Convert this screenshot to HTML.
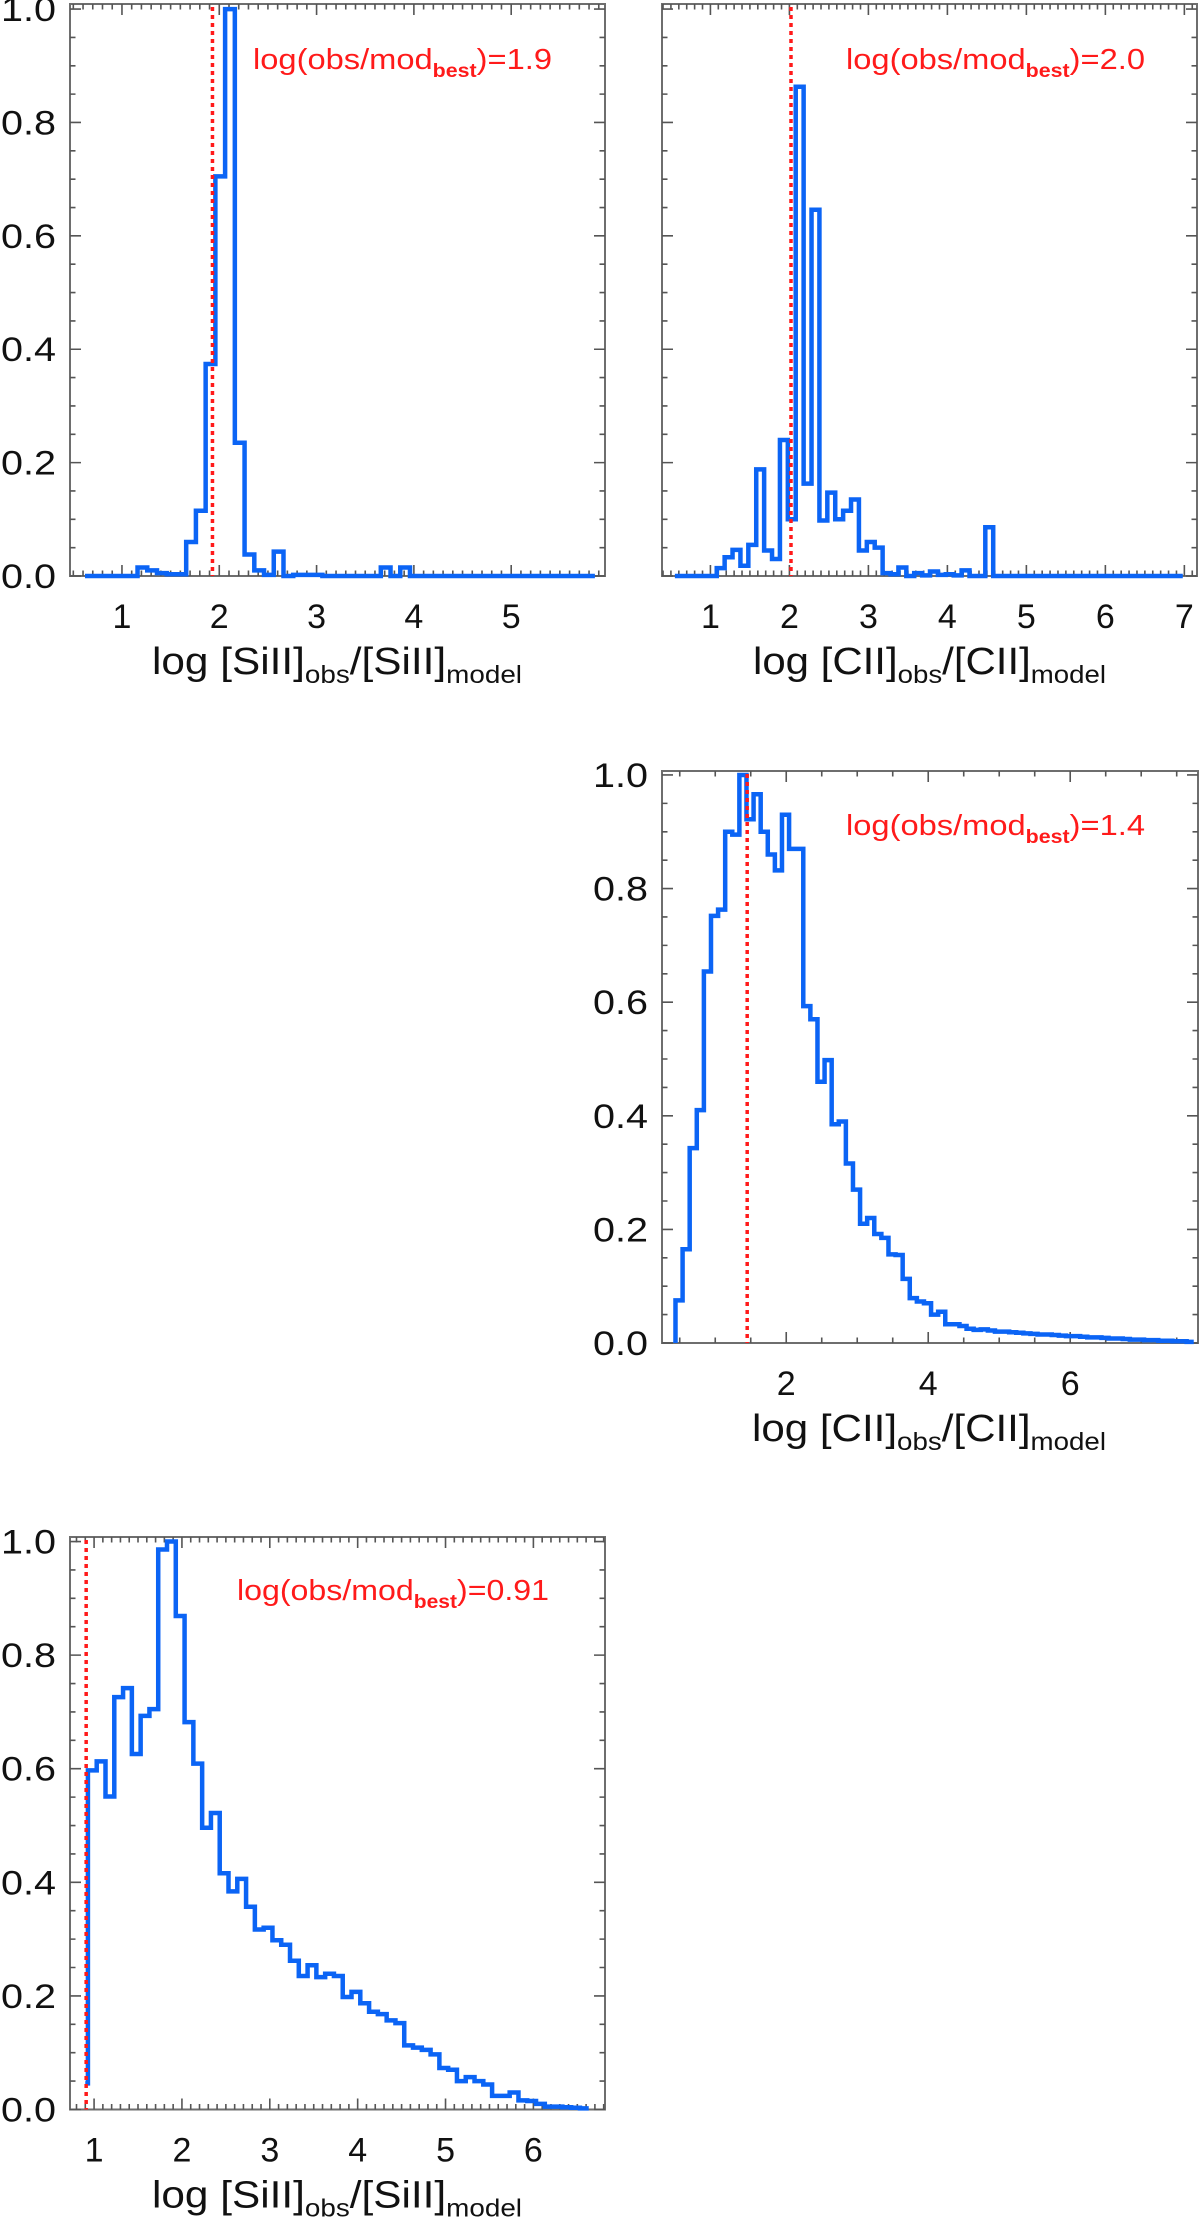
<!DOCTYPE html>
<html><head><meta charset="utf-8"><style>
html,body{margin:0;padding:0;background:#fff;}
svg{display:block;font-family:"Liberation Sans",sans-serif;}
</style></head><body>
<svg id="fig" width="1200" height="2220" viewBox="0 0 1200 2220" xmlns="http://www.w3.org/2000/svg"></svg>
<script>
// ---- data ----
const p1Start = 0.56, p1Width = 0.1, p1Lo = 0.62;
const p1Values = [0,0,0,0,0,0,0.015,0.01,0.005,0.003,0.003,0.06,0.115,0.374,0.705,1.0,0.235,0.038,0.01,0.002,0.043,0,0.002,0.002,0.002,0,0,0,0,0,0,0.015,0,0.015,0,0,0,0,0,0,0,0,0,0,0,0,0,0,0,0,0,0,0];
const p1Best = 1.93;
const p1XTicks = [1,2,3,4,5];

const p2Start = 0.48, p2Width = 0.1, p2Lo = 0.55;
const p2Values = [0,0,0,0,0,0,0.014,0.033,0.046,0.018,0.055,0.188,0.045,0.03,0.24,0.1,0.863,0.163,0.646,0.098,0.147,0.1,0.115,0.135,0.045,0.06,0.05,0.005,0.003,0.015,0,0.005,0.001,0.008,0.002,0.003,0.001,0.01,0,0,0.086,0,0,0,0,0,0,0,0,0,0,0,0,0,0,0,0,0,0,0,0,0,0,0,0];
const p2Best = 2.02;
const p2XTicks = [1,2,3,4,5,6,7];

const p3Start = 0.44, p3Width = 0.1, p3Lo = 0.44;
const p3Values = [0.075,0.165,0.343,0.41,0.654,0.752,0.763,0.9,0.895,1.0,0.922,0.966,0.9,0.86,0.832,0.93,0.87,0.87,0.593,0.57,0.46,0.498,0.385,0.39,0.316,0.27,0.21,0.22,0.192,0.185,0.156,0.155,0.113,0.079,0.073,0.07,0.05,0.055,0.033,0.033,0.03,0.025,0.023,0.024,0.022,0.02,0.02,0.019,0.018,0.017,0.016,0.015,0.015,0.014,0.013,0.012,0.012,0.011,0.01,0.01,0.009,0.008,0.008,0.007,0.006,0.006,0.005,0.005,0.004,0.004,0.003,0.003,0.002];
const p3Best = 1.45;
const p3XTicks = [2,4,6];

const p4Start = 0.83, p4Width = 0.1, p4Lo = 0.9;
const p4Values = [0.046,0.597,0.613,0.551,0.726,0.742,0.626,0.693,0.705,0.986,1.0,0.869,0.682,0.609,0.496,0.522,0.416,0.384,0.406,0.357,0.317,0.32,0.298,0.29,0.262,0.235,0.254,0.233,0.239,0.235,0.198,0.207,0.187,0.172,0.168,0.157,0.152,0.113,0.109,0.105,0.097,0.073,0.07,0.05,0.057,0.05,0.044,0.024,0.024,0.03,0.016,0.015,0.01,0.005,0.005,0.004,0.003,0.002];
const p4Best = 0.91;
const p4XTicks = [1,2,3,4,5,6];

const yTickLabels = ["0.0","0.2","0.4","0.6","0.8","1.0"];
const yTickValues = [0,0.2,0.4,0.6,0.8,1.0];

const NS = "http://www.w3.org/2000/svg";
const fig = document.getElementById('fig');
function mk(tag, attrs, parent){
  const e = document.createElementNS(NS, tag);
  for (const k in attrs) e.setAttribute(k, attrs[k]);
  (parent||fig).appendChild(e);
  return e;
}

function panel(cfg){
  const g = mk('g', {});
  
  
  const X = v => cfg.L + (v - cfg.xmin) / (cfg.xmax - cfg.xmin) * (cfg.R - cfg.L);
  const Y = v => cfg.B - (v - 0) / (cfg.ymax - 0) * (cfg.B - cfg.T);
  const fr = mk('rect', {x:cfg.L, y:cfg.T, width:cfg.R-cfg.L, height:cfg.B-cfg.T, fill:'none', stroke:'#6e6e6e', 'stroke-width':2}, g);
  
  
  let d = '';
  const first = Math.ceil(cfg.xmin / cfg.xMinor - 1e-6);
  for (let i = first; i * cfg.xMinor <= cfg.xmax + 1e-6; i++){
    const v = i * cfg.xMinor;
    const maj = Math.abs(v / cfg.xMajor - Math.round(v / cfg.xMajor)) < 1e-6;
    const len = maj ? 11 : 5.5;
    const x = X(v);
    d += `M${x},${cfg.B}v${-len}M${x},${cfg.T}v${len}`;
  }
  for (let v = 0; v <= cfg.ymax + 1e-6; v += 0.05){
    const maj = Math.abs(v / 0.2 - Math.round(v / 0.2)) < 1e-6;
    const len = maj ? 11 : 5.5;
    const y = Y(v);
    d += `M${cfg.L},${y}h${len}M${cfg.R},${y}h${-len}`;
  }
  const tk = mk('path', {d:d, stroke:'#555', 'stroke-width':1.6, fill:'none'}, g);
  
  
  cfg.xTicks.forEach(v => {
    const t = mk('text', {x:X(v), y:cfg.B+52, 'font-size':34, 'text-anchor':'middle', fill:'#111'}, g);
    
    
    t.textContent = String(v);
  });
  if (cfg.yLabelRight){
    yTickValues.forEach((v, i) => {
      const t = mk('text', {x:cfg.yLabelRight, y:Y(v)+12, 'font-size':34, 'text-anchor':'end', fill:'#111', textLength:55, lengthAdjust:'spacingAndGlyphs'}, g);
      
      
      t.textContent = yTickLabels[i];
    });
  }
  let p = '';
  const vals = cfg.values;
  for (let k = 0; k < vals.length; k++){
    const x0 = X(Math.max(cfg.start + k * cfg.width, cfg.lo));
    const x1 = X(cfg.start + (k + 1) * cfg.width);
    const y = Y(vals[k]);
    if (k === 0){ p += cfg.fromZero ? `M${x0},${Y(0)}L${x0},${y}` : `M${x0},${y}`; }
    else p += `L${x0},${y}`;
    p += `L${x1},${y}`;
  }
  const h = mk('path', {d:p, fill:'none', stroke:'#0b64f5', 'stroke-width':4.5, 'stroke-linejoin':'miter'}, g);
  
  
  const bl = mk('line', {x1:X(cfg.best), x2:X(cfg.best), y1:cfg.T+3, y2:cfg.B, stroke:'#ff1a1a', 'stroke-width':3.5, 'stroke-dasharray':'4 4'}, g);
  
  
  const an = mk('text', {x:cfg.annX, y:cfg.annY, 'font-size':29, fill:'#ff1a1a', textLength:cfg.annW, lengthAdjust:'spacingAndGlyphs'}, g);
  
  
  an.innerHTML = `log(obs/mod<tspan font-size="19" font-weight="bold" dy="8">best</tspan><tspan dy="-8">)=${cfg.annVal}</tspan>`;
  const tt = mk('text', {x:cfg.titleX, y:cfg.B+98, 'font-size':38, fill:'#111', textLength:cfg.titleW, lengthAdjust:'spacingAndGlyphs'}, g);
  
  
  const el = cfg.el;
  tt.innerHTML = `log  [${el}]<tspan font-size="25" dy="9">obs</tspan><tspan dy="-9">/[${el}]</tspan><tspan font-size="25" dy="9">model</tspan>`;
}

panel({name:'panel-siii-top', L:70, R:605, T:4, B:576, xmin:0.466, xmax:5.964, ymax:1.009, xMinor:0.1, xMajor:1,
  xTicks:p1XTicks, yLabelRight:56, start:p1Start, width:p1Width, lo:p1Lo, values:p1Values, fromZero:false,
  best:p1Best, annX:253, annY:69, annW:299, annVal:'1.9', titleX:152, titleW:370, el:'SiII'});
panel({name:'panel-cii-top', L:662, R:1197, T:4, B:576, xmin:0.387, xmax:7.16, ymax:1.009, xMinor:0.1, xMajor:1,
  xTicks:p2XTicks, yLabelRight:null, start:p2Start, width:p2Width, lo:p2Lo, values:p2Values, fromZero:false,
  best:p2Best, annX:846, annY:69, annW:299, annVal:'2.0', titleX:753, titleW:353, el:'CII'});
panel({name:'panel-cii-middle', L:662, R:1198, T:771, B:1343, xmin:0.25, xmax:7.80, ymax:1.007, xMinor:0.5, xMajor:2,
  xTicks:p3XTicks, yLabelRight:648, start:p3Start, width:p3Width, lo:p3Lo, values:p3Values, fromZero:true,
  best:p3Best, annX:846, annY:835, annW:299, annVal:'1.4', titleX:752, titleW:354, el:'CII'});
panel({name:'panel-siii-bottom', L:70, R:605, T:1537, B:2109.5, xmin:0.726, xmax:6.815, ymax:1.008, xMinor:0.1, xMajor:1,
  xTicks:p4XTicks, yLabelRight:56, start:p4Start, width:p4Width, lo:p4Lo, values:p4Values, fromZero:false,
  best:p4Best, annX:237, annY:1600, annW:312, annVal:'0.91', titleX:152, titleW:370, el:'SiII'});
</script>
</body></html>
